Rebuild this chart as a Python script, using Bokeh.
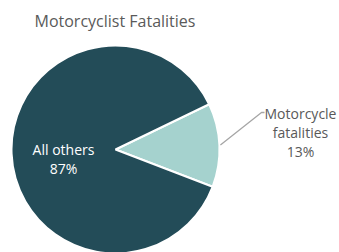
import math
from bokeh.plotting import figure
from bokeh.models import Range1d, ColumnDataSource
from bokeh.core.properties import value
from bokeh.embed import file_html
from bokeh.resources import INLINE

title = "Motorcyclist Fatalities"
categories = ["Motorcycle fatalities", "All others"]
shares = [13, 87]
label_lines = [["Motorcycle", "fatalities", "13%"], ["All others", "87%"]]
colors = ["#a5d2ce", "#234c58"]

W, H = 339, 252
p = figure(width=W, height=H, output_backend="svg", toolbar_location=None,
           x_range=Range1d(0, W), y_range=Range1d(0, H),
           x_axis_type=None, y_axis_type=None, min_border=0)
p.outline_line_color = None
p.grid.visible = False
p.background_fill_color = "white"

cx, cy, r = 115, 103, 104
mid_first = math.radians(2.4)
total = sum(shares)
starts, ends = [], []
a = mid_first - shares[0] / total * math.pi
for s in shares:
    starts.append(a)
    a += s / total * 2 * math.pi
    ends.append(a)

src = ColumnDataSource(dict(x=[cx] * 2, y=[cy] * 2, start=starts, end=ends,
                            color=colors, cat=categories))
p.wedge(x="x", y="y", radius=r, start_angle="start", end_angle="end",
        fill_color="color", line_color="white", line_width=2, source=src)

font = value("Open Sans")
# title
p.text(x=[34], y=[232], text=[title], text_font=font, text_font_size="16px",
       text_color="#5a5a5a", text_baseline="middle", text_align="left")

# inside label (All others)
lines = label_lines[1]
p.text(x=[63] * len(lines), y=[103 - 19 * i for i in range(len(lines))], text=lines,
       text_font=font, text_font_size="14px", text_color="white",
       text_align="center", text_baseline="middle")

# outside label (Motorcycle)
lines = label_lines[0]
p.text(x=[300] * len(lines), y=[139 - 19 * i for i in range(len(lines))], text=lines,
       text_font=font, text_font_size="14px", text_color="#595959",
       text_align="center", text_baseline="middle")

# leader line
mx = cx + (r + 1) * math.cos(mid_first)
my = cy + (r + 1) * math.sin(mid_first)
p.line(x=[mx, 261, 264], y=[my, 140, 140], line_color="#a6a6a6", line_width=1.3)

open("out.html", "w").write(file_html(p, INLINE))
